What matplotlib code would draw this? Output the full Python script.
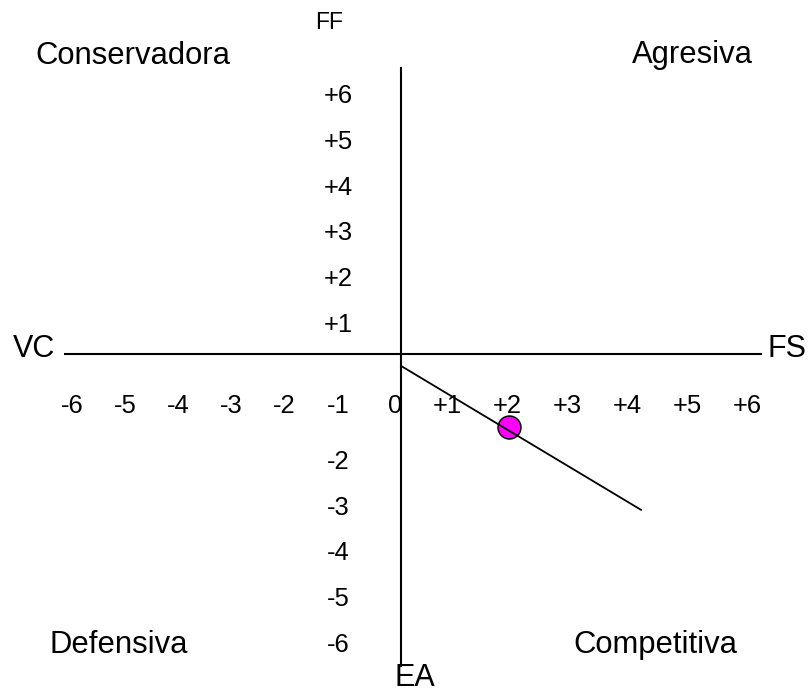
import numpy as np
import matplotlib
matplotlib.use("Agg")
import matplotlib.pyplot as plt

plt.rcParams['font.family'] = ['Liberation Sans', 'DejaVu Sans']

# ---- data ----
x_ticks = [-6, -5, -4, -3, -2, -1, 0, 1, 2, 3, 4, 5, 6]
y_ticks = [6, 5, 4, 3, 2, 1, -2, -3, -4, -5, -6]
axis_names = {"top": "FF", "bottom": "EA", "left": "VC", "right": "FS"}
quadrants = ["Conservadora", "Agresiva", "Defensiva", "Competitiva"]
vector_x = [0.0, 4.0]
vector_y = [-0.26, -3.41]
point_x = [1.8]
point_y = [-1.6]
h_axis_x = [-6.33, 6.02]
v_axis_y = [6.28, -6.85]

def tick_text(k):
    return f"+{k}" if k > 0 else str(k)

# ---- figure ----
W, H, DPI = 810, 692, 100
fig = plt.figure(figsize=(W / DPI, H / DPI), dpi=DPI)
ax = fig.add_axes([0, 0, 1, 1])

NEG = 53.2 / 60.0
def fwd(x):
    x = np.asarray(x, dtype=float)
    return np.where(x < 0, x * NEG, x)
def inv(x):
    x = np.asarray(x, dtype=float)
    return np.where(x < 0, x / NEG, x)
ax.set_xscale('function', functions=(fwd, inv))

PXX, PXY = 60.0, 45.7   # pixels per unit
ox, oy = 401.0, 354.0   # origin pixel
ax.set_xlim(-(ox / PXX) / NEG, (W - ox) / PXX)
ax.set_ylim(-(H - oy) / PXY, oy / PXY)
ax.axis('off')

# axes lines
ax.plot(h_axis_x, [0, 0], color='black', lw=1.5, solid_capstyle='butt')
ax.plot([0, 0], v_axis_y, color='black', lw=1.5, solid_capstyle='butt')

# point and vector
ax.plot(point_x, point_y, 'o', ms=16.5, mfc='#FF00FF', mec='black', mew=1.1, zorder=3)
ax.plot(vector_x, vector_y, color='black', lw=1.3, zorder=4)

PT = 72.0 / DPI
# x tick labels
for k in x_ticks:
    off = -14 if k > 0 else (-10 if k < 0 else -6)
    ax.annotate(tick_text(k), xy=(k, 0), xytext=(off * PT, -58.7 * PT),
                textcoords='offset points', ha='center', va='baseline', fontsize=18.4)
# y tick labels
for k in y_ticks:
    ax.annotate(tick_text(k), xy=(0, k), xytext=(-63 * PT, -(14.5 + 9) * PT),
                textcoords='offset points', ha='center', va='baseline', fontsize=18.4)

def ptext(px, py, s, ha='left', size=22.3):
    ax.text(px / W, 1 - py / H, s, transform=ax.transAxes, ha=ha, va='baseline', fontsize=size)

ptext(329, 29, axis_names["top"], ha='center', size=16.5)
ptext(415, 686, axis_names["bottom"], ha='center', size=22)
ptext(13, 357, axis_names["left"], size=22)
ptext(768, 357, axis_names["right"], size=22)

ptext(35, 64.5, quadrants[0])
ptext(632, 63.5, quadrants[1])
ptext(50, 653, quadrants[2])
ptext(573, 653, quadrants[3])

fig.savefig("out.png", dpi=DPI, facecolor='white')
